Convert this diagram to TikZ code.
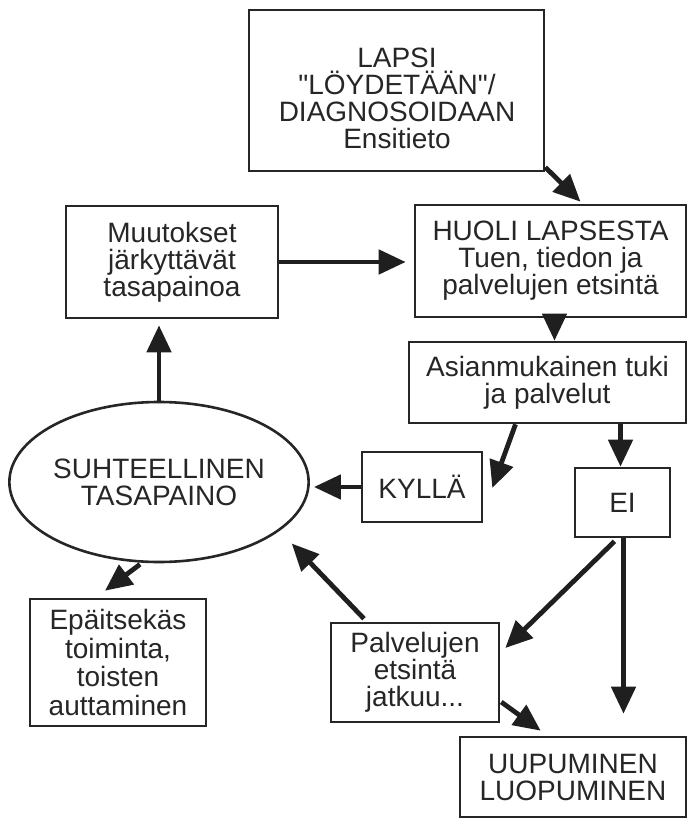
\documentclass[tikz,border=0pt]{standalone}
\usepackage{fontspec}
\setmainfont{Liberation Sans}[Ligatures=TeXOff]
\usetikzlibrary{shapes.geometric,arrows.meta,calc}
\begin{document}
\begin{tikzpicture}[x=1pt,y=-1pt,
  txt/.style={align=center, font=\fontsize{28}{27}\selectfont, text=black!85},
  box/.style={txt, draw=black!85, line width=2.6pt, inner sep=0pt},
  arr/.style={draw=black!88, line width=4.8pt, -{Triangle[length=27pt,width=24pt]}},
]
\useasboundingbox (0,0) rectangle (688,819);
% boxes
\node[box, minimum width=295pt, minimum height=161pt] (lapsi) at (396.5,90.5) {};
\node[txt] (lapsiT) at (397,98) {LAPSI\\"LÖYDETÄÄN"/\\DIAGNOSOIDAAN\\Ensitieto};
\node[box, minimum width=271pt, minimum height=112pt] (huoli) at (550.5,261) {HUOLI LAPSESTA\\Tuen, tiedon ja\\palvelujen etsintä};
\node[box, minimum width=277pt, minimum height=81pt] (asian) at (547.5,382.5) {Asianmukainen tuki\\ja palvelut};
\node[box, minimum width=212pt, minimum height=112pt] (muut) at (172,262) {Muutokset\\järkyttävät\\tasapainoa};
\node[box, ellipse, minimum width=288pt, minimum height=160pt] (ell) at (159,482) {SUHTEELLINEN\\TASAPAINO};
\node[box, minimum width=120pt, minimum height=70pt] (kylla) at (422,487) {KYLLÄ};
\node[box, minimum width=95pt, minimum height=69pt] (ei) at (622.5,502.5) {EI};
\node[box, minimum width=176pt, minimum height=127pt, font=\fontsize{28}{28.5}\selectfont] (epa) at (118,662.5) {Epäitsekäs\\toiminta,\\toisten\\auttaminen};
\node[box, minimum width=168pt, minimum height=99pt] (palv) at (415,672.5) {Palvelujen\\etsintä\\jatkuu...};
\node[box, minimum width=226pt, minimum height=80pt] (uup) at (573,777) {UUPUMINEN\\LUOPUMINEN};
% arrows
\draw[arr] ($(lapsi.south east)+(0,-5)$) -- ($(huoli.north)+(30,-2)$);
\draw[arr] (muut.east) -- ($(muut.east -| huoli.west)+(-8,0)$);
\draw[arr] ($(huoli.south)+(4,0)$) -- ($(huoli.south |- asian.north)+(4,0)$);
\draw[arr] (ell.north) -- ($(ell.north |- muut.south)+(0,6)$);
\draw[arr] (kylla.west) -- ($(ell.east |- kylla.west)+(4,0)$);
\draw[arr] ($(asian.south)+(-32,0)$) -- ($(kylla.east)+(9,1)$);
\draw[arr] ($(ei.north |- asian.south)+(-2,0)$) -- ($(ei.north)+(-2,0)$);
\draw[arr] ($(ei.south)+(-8,3)$) -- ($(palv.east)+(5,-24.5)$);
\draw[arr] ($(ei.south)+(1,0)$) -- ($(ei.south |- uup.north)+(1,-22)$);
\draw[arr] ($(palv.north)+(-51,-3)$) -- ($(ell.south east)+(26,4)$);
\draw[arr] ($(palv.east)+(1,29.5)$) -- ($(uup.north west)+(82,-5)$);
\draw[arr] ($(ell.south)+(-19,1)$) -- ($(epa.north)+(-13,-7)$);
\end{tikzpicture}
\end{document}
